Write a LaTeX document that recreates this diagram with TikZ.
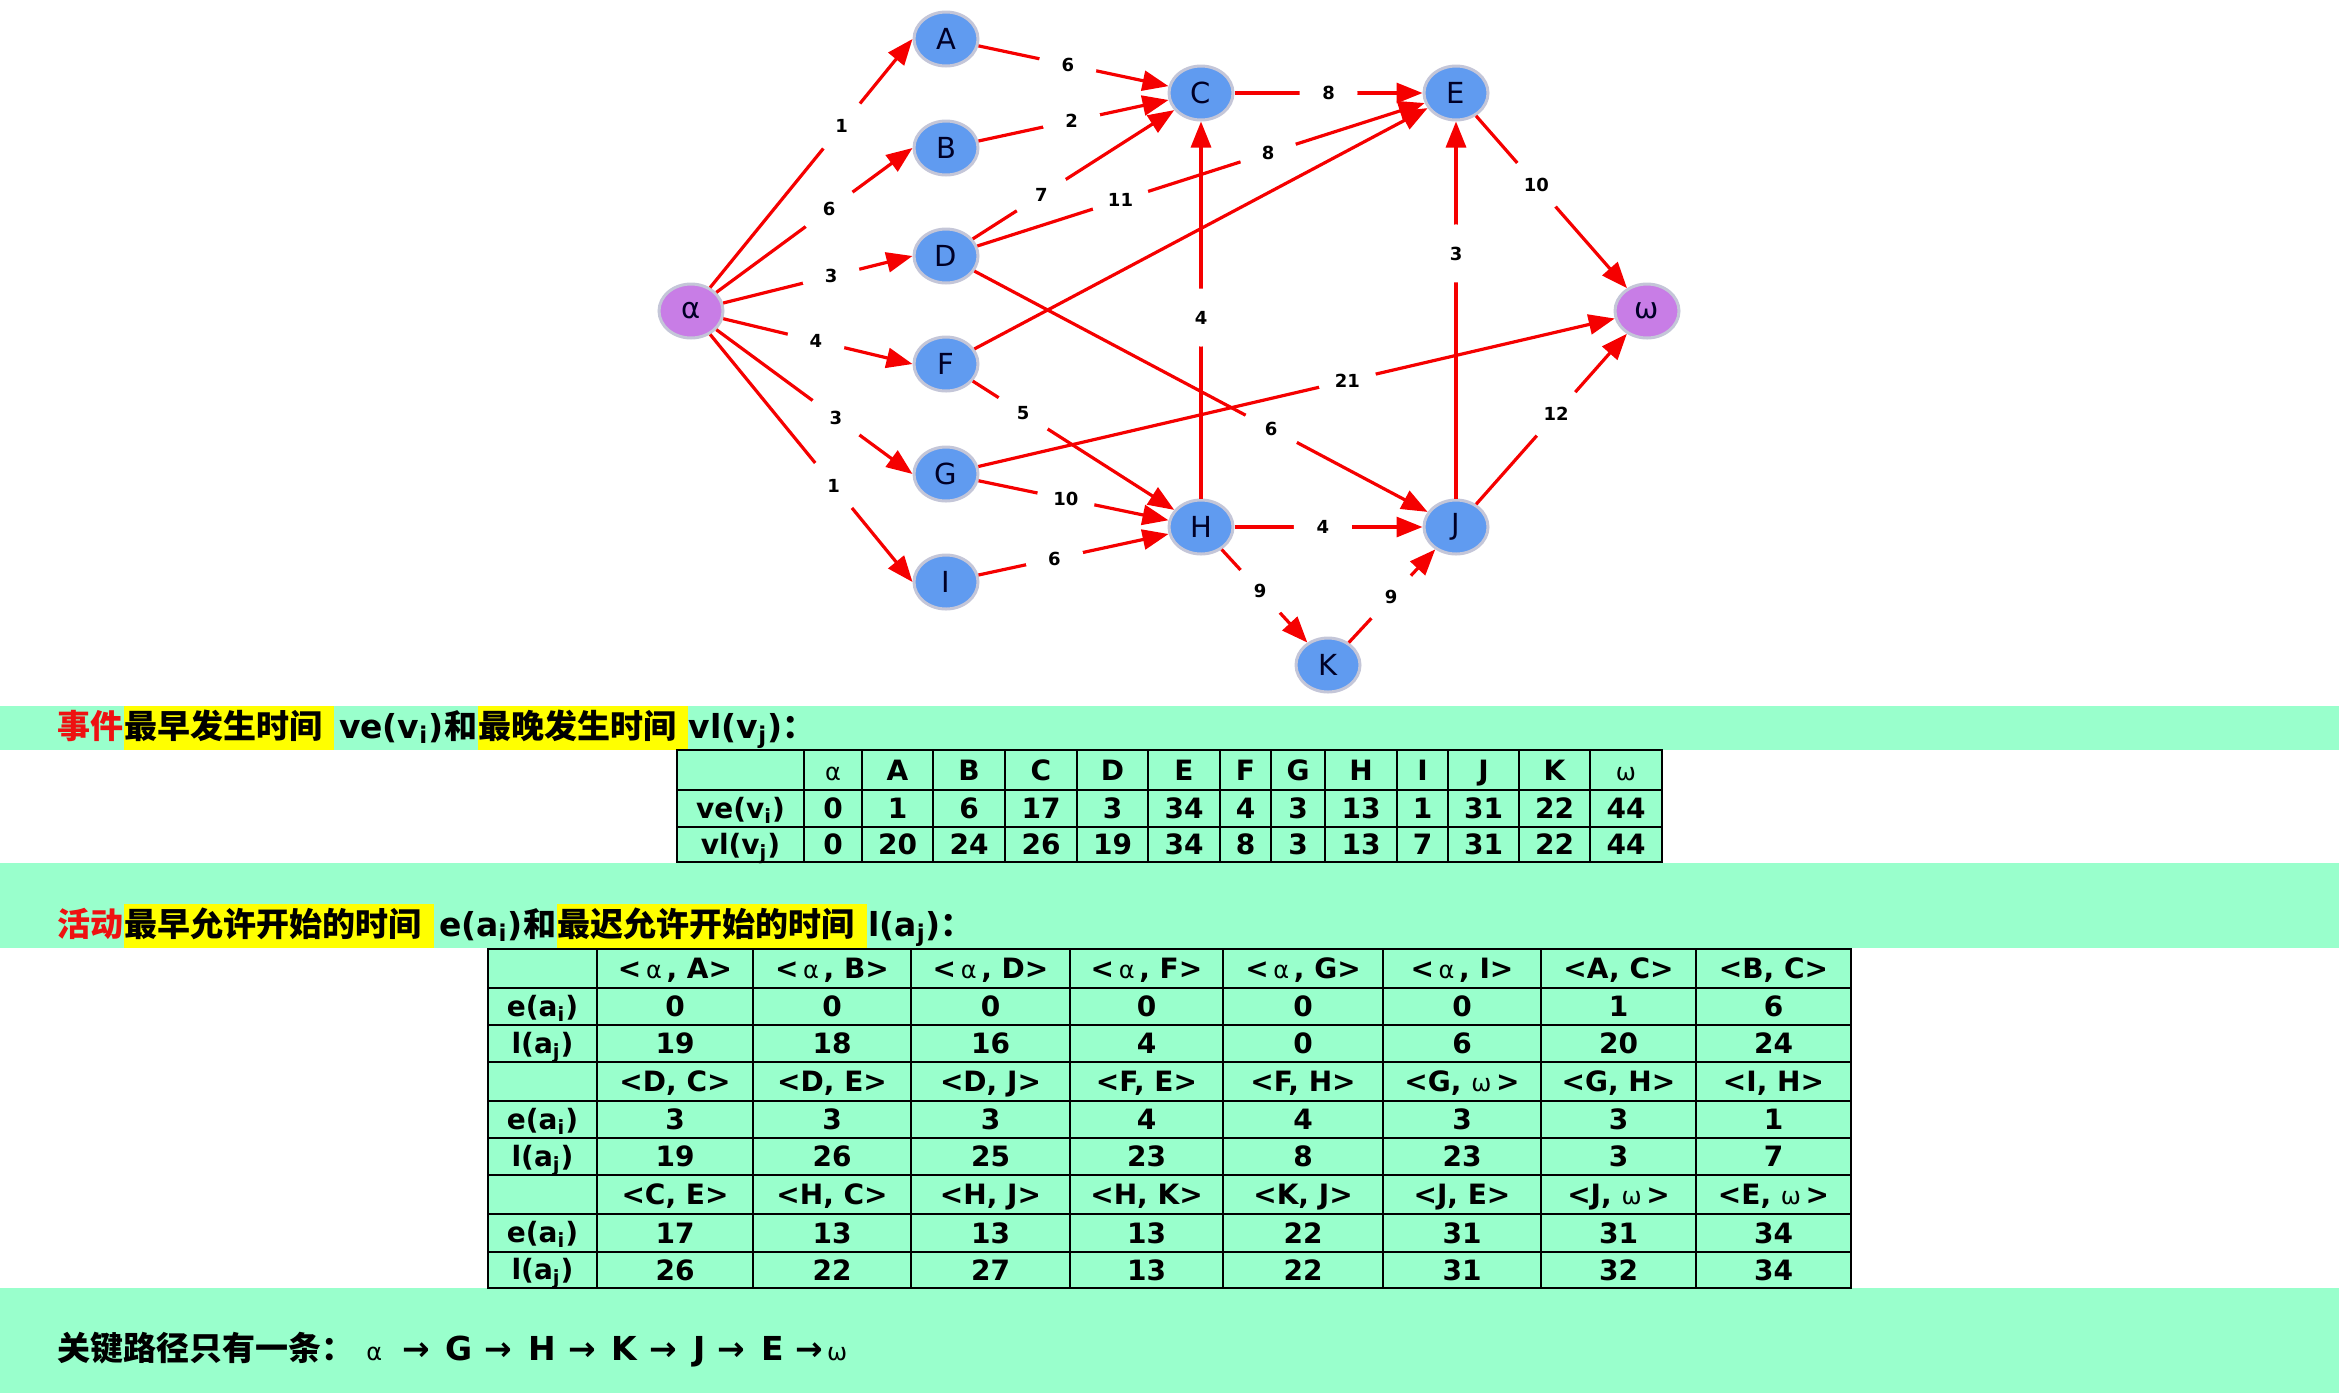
\documentclass[tikz,border=0pt]{standalone}
\usepackage{fontspec}
\setmainfont{DejaVu Sans}
\newfontfamily\cjk{Noto Sans CJK SC}
\usetikzlibrary{arrows.meta,positioning,shapes.geometric}
\definecolor{mint}{HTML}{99FFCC}
\definecolor{hl}{HTML}{FFFF00}
\definecolor{warn}{HTML}{EE1111}
\definecolor{evblue}{HTML}{609BF0}
\definecolor{evrim}{HTML}{C4C6D8}
\definecolor{evend}{HTML}{C87DE6}
\definecolor{actred}{HTML}{F50000}
\newcommand\al{{\mdseries\fontsize{12}{12}\selectfont α}}
\newcommand\om{{\mdseries\fontsize{12}{12}\selectfont ω}}
\newcommand\arr{\hspace{6pt}→\hspace{8pt}}
\tikzset{
  event/.style={ellipse, draw=evrim, fill=evblue, line width=1.5pt, minimum width=32pt,
    minimum height=27pt, inner sep=0pt, font=\fontsize{14.5}{15}\selectfont, text=black!85!blue},
  terminal/.style={event, fill=evend},
  act/.style={draw=actred, line width=1.6pt, -{Triangle[length=13pt,width=10pt]}},
  wt/.style={circle, fill=white, minimum size=29pt, inner sep=0pt, font=\bfseries\fontsize{9}{10}\selectfont},
  ttl/.style={inner sep=0pt, minimum height=22pt, text height=16pt, text depth=6pt,
    font=\bfseries\fontsize{16.5}{19}\selectfont},
  hlbox/.style={ttl, fill=hl},
  cell/.style={inner sep=0pt, text height=10.2pt, text depth=0pt, font=\bfseries\fontsize{14}{17}\selectfont},
  grid/.style={line width=1.3pt}
}

\begin{document}
\begin{tikzpicture}[x=0.5pt, y=-0.5pt]
  \useasboundingbox (0,0) rectangle (2339,1393);

  % Bands
  \fill[mint] (0,706) rectangle (2339,750);
  \fill[mint] (0,863) rectangle (2339,948);
  \fill[mint] (0,1288) rectangle (2339,1393);

  % Events
  \node[terminal] (alpha) at (691,311) {α};
  \foreach \name/\x/\y in {A/946/39, B/946/148, D/946/256, F/946/364, G/946/474, I/946/582,
                           C/1201/93, E/1456/93, H/1201/527, J/1456/527, K/1328/665} {
    \node[event] (\name) at (\x,\y) {\name};
  }
  \node[terminal] (omega) at (1647,311) {ω};

  % Activities out of alpha
  \draw[act] (alpha) -- node[wt, pos=0.65] {1} (A.west);
  \draw[act] (alpha) -- node[wt, pos=0.575] {6} (B.west);
  \draw[act] (alpha) -- node[wt, pos=0.57] {3} (D.west);
  \draw[act] (alpha) -- node[wt, pos=0.49] {4} (F.west);
  \draw[act] (alpha) -- node[wt, pos=0.61] {3} (G.west);
  \draw[act] (alpha) -- node[wt, pos=0.61] {1} (I.west);

  % Into C and E
  \draw[act] (A) -- node[wt, pos=0.47] {6} (C);
  \draw[act] (B) -- node[wt, pos=0.49] {2} (C);
  \draw[act] (D) -- node[wt, pos=0.34] {7} (C);
  \draw[act] (H) -- node[wt, pos=0.48] {4} (C);
  \draw[act] (C) -- node[wt] {8} (E);
  \draw[act] (D) -- node[wt, pos=0.32] {11} node[wt, pos=0.65] {8} (E);
  \draw[act] (F) -- (E);
  \draw[act] (J) -- node[wt, pos=0.65] {3} (E);

  % Into H, J and K
  \draw[act] (F) -- node[wt, pos=0.25] {5} (H);
  \draw[act] (G) -- node[wt, pos=0.46] {10} (H);
  \draw[act] (I) -- node[wt, pos=0.40] {6} (H);
  \draw[act] (D) -- node[wt, pos=0.655] {6} (J);
  \draw[act] (H) -- node[wt, pos=0.47] {4} (J);
  \draw[act] (H) -- node[wt, pos=0.45] {9} (K);
  \draw[act] (K) -- node[wt, pos=0.49] {9} (J);

  % Into omega
  \draw[act] (E) -- node[wt, pos=0.40] {10} (omega);
  \draw[act] (G) -- node[wt, pos=0.58] {21} (omega);
  \draw[act] (J) -- node[wt, pos=0.53] {12} (omega);

  % Heading of event table
  \node[ttl, anchor=west, text=warn] (h1a) at (57,728) {\cjk 事件};
  \node[hlbox, right=0pt of h1a] (h1b) {\cjk 最早发生时间\rule{6pt}{0pt}};
  \node[ttl, right=0pt of h1b] (h1c) {\rule{2pt}{0pt}ve(v\textsubscript{i})};
  \node[ttl, right=0pt of h1c] (h1d) {\cjk 和};
  \node[hlbox, right=0pt of h1d] (h1e) {\cjk 最晚发生时间\rule{6pt}{0pt}};
  \node[ttl, right=0pt of h1e] (h1f) {vl(v\textsubscript{j})\cjk ：};

  % Event table
  \draw[grid, fill=mint] (677,750) rectangle (1662,862);
  \foreach \y in {790,827} \draw[grid] (677,\y) -- (1662,\y);
  \foreach \x in {804,862,933,1005,1077,1148,1220,1271,1325,1397,1448,1519,1590}
    \draw[grid] (\x,750) -- (\x,862);
  \node[cell] (ve-0) at (740.5,808.5) {ve(v\textsubscript{i})};
  \node[cell] (vl-0) at (740.5,844.5) {vl(v\textsubscript{j})};
  \foreach \x/\ev/\ve/\vl [count=\c] in {833/\al/0/0, 897.5/A/1/20, 969/B/6/24, 1041/C/17/26,
      1112.5/D/3/19, 1184/E/34/34, 1245.5/F/4/8, 1298/G/3/3, 1361/H/13/13, 1422.5/I/1/7,
      1483.5/J/31/31, 1554.5/K/22/22, 1626/\om/44/44} {
    \node[cell] (ev-\c) at (\x,770) {\ev};
    \node[cell] (ve-\c) at (\x,808.5) {\ve};
    \node[cell] (vl-\c) at (\x,844.5) {\vl};
  }

  % Heading of activity table
  \node[ttl, anchor=west, text=warn] (h2a) at (57,926) {\cjk 活动};
  \node[hlbox, right=0pt of h2a] (h2b) {\cjk 最早允许开始的时间\rule{6.5pt}{0pt}};
  \node[ttl, right=0pt of h2b] (h2c) {\rule{2pt}{0pt}e(a\textsubscript{i})};
  \node[ttl, right=0pt of h2c] (h2d) {\cjk 和};
  \node[hlbox, right=0pt of h2d] (h2e) {\cjk 最迟允许开始的时间\rule{6.5pt}{0pt}};
  \node[ttl, right=0pt of h2e] (h2f) {l(a\textsubscript{j})\cjk ：};

  % Activity table
  \draw[grid, fill=mint] (488,949) rectangle (1851,1288);
  \foreach \y in {988,1025,1062,1101,1138,1175,1214,1252} \draw[grid] (488,\y) -- (1851,\y);
  \foreach \x in {597,753,911,1070,1223,1383,1541,1696} \draw[grid] (\x,949) -- (\x,1288);
  \foreach \yb/\row in {968.5/1, 1081.5/2, 1194.5/3} {
    \node[cell] (ea-\row) at (542.5,\yb+38) {e(a\textsubscript{i})};
    \node[cell] (la-\row) at (542.5,\yb+75) {l(a\textsubscript{j})};
  }
  \foreach \x/\pair/\early/\late [count=\c] in {675/{<\,\al\,, A>}/0/19, 832/{<\,\al\,, B>}/0/18,
      990.5/{<\,\al\,, D>}/0/16, 1146.5/{<\,\al\,, F>}/0/4, 1303/{<\,\al\,, G>}/0/0,
      1462/{<\,\al\,, I>}/0/6, 1618.5/{<A, C>}/1/20, 1773.5/{<B, C>}/6/24} {
    \node[cell] (pa-1-\c) at (\x,968.5) {\pair};
    \node[cell] (ea-1-\c) at (\x,1006.5) {\early};
    \node[cell] (la-1-\c) at (\x,1043.5) {\late};
  }
  \foreach \x/\pair/\early/\late [count=\c] in {675/{<D, C>}/3/19, 832/{<D, E>}/3/26,
      990.5/{<D, J>}/3/25, 1146.5/{<F, E>}/4/23, 1303/{<F, H>}/4/8,
      1462/{<G, \om\,>}/3/23, 1618.5/{<G, H>}/3/3, 1773.5/{<I, H>}/1/7} {
    \node[cell] (pa-2-\c) at (\x,1081.5) {\pair};
    \node[cell] (ea-2-\c) at (\x,1119.5) {\early};
    \node[cell] (la-2-\c) at (\x,1156.5) {\late};
  }
  \foreach \x/\pair/\early/\late [count=\c] in {675/{<C, E>}/17/26, 832/{<H, C>}/13/22,
      990.5/{<H, J>}/13/27, 1146.5/{<H, K>}/13/13, 1303/{<K, J>}/22/22,
      1462/{<J, E>}/31/31, 1618.5/{<J, \om\,>}/31/32, 1773.5/{<E, \om\,>}/34/34} {
    \node[cell] (pa-3-\c) at (\x,1194.5) {\pair};
    \node[cell] (ea-3-\c) at (\x,1233) {\early};
    \node[cell] (la-3-\c) at (\x,1270) {\late};
  }

  % Critical path
  \node[ttl, anchor=west] (crit) at (57,1350)
    {\cjk 关键路径只有一条：\hspace{6pt}\normalfont\bfseries\fontsize{16.5}{19}\selectfont
     \al\hspace{4pt}\arr G\arr H\arr K\arr J\arr E\hspace{6pt}→\hspace{2pt}\om};
\end{tikzpicture}
\end{document}
